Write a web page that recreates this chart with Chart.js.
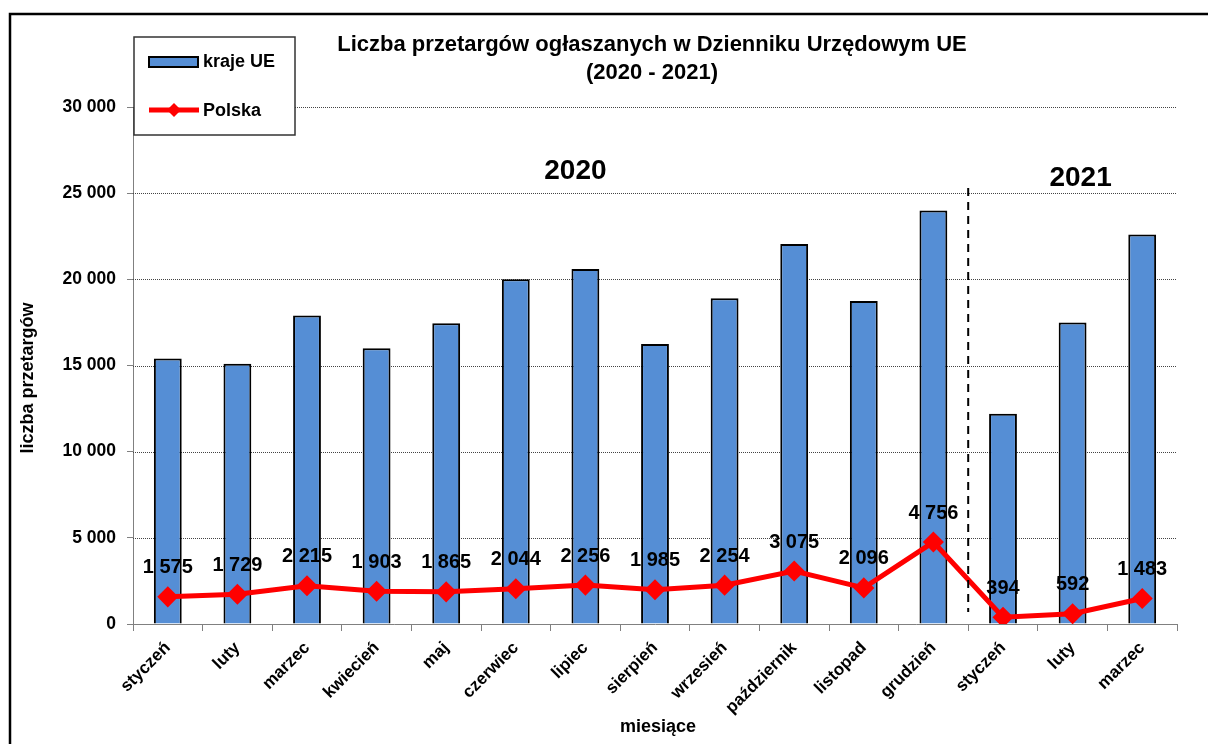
<!DOCTYPE html>
<html>
<head>
<meta charset="utf-8">
<script src="https://cdn.jsdelivr.net/npm/chart.js@4"></script>
<style>
  html, body { margin: 0; padding: 0; background: #fff; }
  #wrap { width: 1208px; height: 744px; position: relative; }
</style>
</head>
<body>
<div id="wrap"><canvas id="tenderChart" width="1208" height="744"></canvas></div>
<script>
// miesiące 2020 (styczeń-grudzień) + 2021 (styczeń-marzec)
var months = ['styczeń', 'luty', 'marzec', 'kwiecień', 'maj', 'czerwiec', 'lipiec', 'sierpień',
    'wrzesień', 'październik', 'listopad', 'grudzień', 'styczeń', 'luty', 'marzec'];
var euValues = [15400, 15100, 17900, 16000, 17450, 20000, 20600, 16250, 18900, 22050, 18750, 24000,
    12200, 17500, 22600];
var polandValues = [1575, 1729, 2215, 1903, 1865, 2044, 2256, 1985, 2254, 3075, 2096, 4756, 394, 592, 1483];
var yearLabels = ['2020', '2021'];
var yearStart = [0, 12];
var yTicks = [0, 5000, 10000, 15000, 20000, 25000, 30000];

var FONT = '"Liberation Sans", Arial, sans-serif';

const fmt = (v) => String(v).replace(/\B(?=(\d{3})+(?!\d))/g, ' ');

// rysowanie tytułów, legendy, siatki i etykiet
var decorations = {
    id: 'decorations',
    beforeDatasetsDraw(chart) {
        var ctx = chart.ctx, area = chart.chartArea, y = chart.scales.y;
        ctx.save();
        ctx.strokeStyle = '#444';
        ctx.lineWidth = 1;
        ctx.setLineDash([1, 1]);
        yTicks.forEach(function (v) {
            if (v === 0) return;
            var py = Math.round(y.getPixelForValue(v)) + 0.5;
            ctx.beginPath();
            ctx.moveTo(area.left, py);
            ctx.lineTo(area.right, py);
            ctx.stroke();
        });
        ctx.restore();
    },
    afterDatasetsDraw(chart) {
        var ctx = chart.ctx, area = chart.chartArea, x = chart.scales.x;
        ctx.save();

        // etykiety danych - Polska
        var meta = chart.getDatasetMeta(1);
        ctx.fillStyle = '#000';
        ctx.font = 'bold 20px ' + FONT;
        ctx.textAlign = 'center';
        ctx.textBaseline = 'middle';
        meta.data.forEach(function (pt, i) {
            ctx.fillText(fmt(polandValues[i]), pt.x, pt.y - 29);
        });

        // linia przerywana między latami
        var sx = (x.getPixelForValue(yearStart[1] - 1) + x.getPixelForValue(yearStart[1])) / 2;
        ctx.strokeStyle = '#000';
        ctx.lineWidth = 2;
        ctx.setLineDash([8, 6]);
        ctx.beginPath();
        ctx.moveTo(sx, 188);
        ctx.lineTo(sx, area.bottom - 12);
        ctx.stroke();
        ctx.setLineDash([]);

        // lata
        ctx.font = 'bold 28px ' + FONT;
        ctx.fillText(yearLabels[0], x.getPixelForValue(6) - 10, 171);
        ctx.fillText(yearLabels[1], x.getPixelForValue(13) + 8, 178);

        // tytuł
        ctx.font = 'bold 22px ' + FONT;
        ctx.fillText('Liczba przetargów ogłaszanych w Dzienniku Urzędowym UE', 652, 45);
        ctx.fillText('(2020 - 2021)', 652, 73);

        // tytuły osi
        ctx.font = 'bold 18px ' + FONT;
        ctx.fillText('miesiące', 658, 727);
        ctx.save();
        ctx.translate(28, 378);
        ctx.rotate(-Math.PI / 2);
        ctx.fillText('liczba przetargów', 0, 0);
        ctx.restore();

        // legenda
        ctx.fillStyle = '#fff';
        ctx.fillRect(134, 37, 161, 98);
        ctx.strokeStyle = '#333';
        ctx.lineWidth = 1.5;
        ctx.strokeRect(134, 37, 161, 98);
        ctx.fillStyle = '#558ED5';
        ctx.fillRect(149, 57, 49, 10);
        ctx.strokeStyle = '#000';
        ctx.lineWidth = 2;
        ctx.strokeRect(149, 57, 49, 10);
        ctx.strokeStyle = '#ff0000';
        ctx.lineWidth = 5;
        ctx.beginPath();
        ctx.moveTo(149, 110);
        ctx.lineTo(199, 110);
        ctx.stroke();
        ctx.fillStyle = '#ff0000';
        ctx.beginPath();
        ctx.moveTo(174, 103);
        ctx.lineTo(181, 110);
        ctx.lineTo(174, 117);
        ctx.lineTo(167, 110);
        ctx.closePath();
        ctx.fill();
        ctx.fillStyle = '#000';
        ctx.textAlign = 'left';
        ctx.font = 'bold 18px ' + FONT;
        ctx.fillText('kraje UE', 203, 62);
        ctx.fillText('Polska', 203, 111);

        // ramka
        ctx.strokeStyle = '#000';
        ctx.lineWidth = 2.5;
        ctx.strokeRect(10, 14, 1300, 800);
        ctx.restore();
    }
};

var ctx = document.getElementById('tenderChart').getContext('2d');
var tenderChart = new Chart(ctx, {
    data: {
        labels: months,
        datasets: [{
            type: 'bar',
            label: 'kraje UE',
            data: euValues,
            backgroundColor: '#558ED5',
            borderColor: '#000',
            borderWidth: 2,
            barPercentage: 0.4,
            categoryPercentage: 1,
            order: 2
        }, {
            type: 'line',
            label: 'Polska',
            data: polandValues,
            borderColor: '#ff0000',
            borderWidth: 5,
            pointStyle: 'rectRot',
            pointRadius: 7,
            pointBackgroundColor: '#ff0000',
            pointBorderColor: '#ff0000',
            tension: 0,
            order: 1
        }]
    },
    options: {
        responsive: false,
        devicePixelRatio: 1,
        animation: false,
        layout: { padding: { top: 107, right: 31, left: 0, bottom: 0 } },
        plugins: {
            legend: { display: false },
            title: { display: false },
            tooltip: { enabled: false }
        },
        scales: {
            x: {
                offset: true,
                grid: { offset: true, drawOnChartArea: false, drawTicks: true, tickLength: 7, color: '#808080' },
                border: { color: '#808080', width: 1 },
                ticks: {
                    autoSkip: false,
                    minRotation: 45,
                    maxRotation: 45,
                    padding: 7,
                    color: '#000',
                    font: { family: FONT, size: 17, weight: 'bold' }
                },
                afterFit: (scale) => { scale.height = 120; }
            },
            y: {
                min: 0,
                max: 30000,
                afterBuildTicks: (scale) => { scale.ticks = yTicks.map(v => ({ value: v })); },
                grid: { drawOnChartArea: false, drawTicks: true, tickLength: 6, color: '#808080' },
                border: { color: '#808080', width: 1 },
                ticks: {
                    padding: 11,
                    color: '#000',
                    font: { family: FONT, size: 17.5, weight: 'bold' },
                    callback: (v) => fmt(v)
                },
                afterFit: (scale) => { scale.width = 133; }
            }
        }
    },
    plugins: [decorations]
});
</script>
</body>
</html>
